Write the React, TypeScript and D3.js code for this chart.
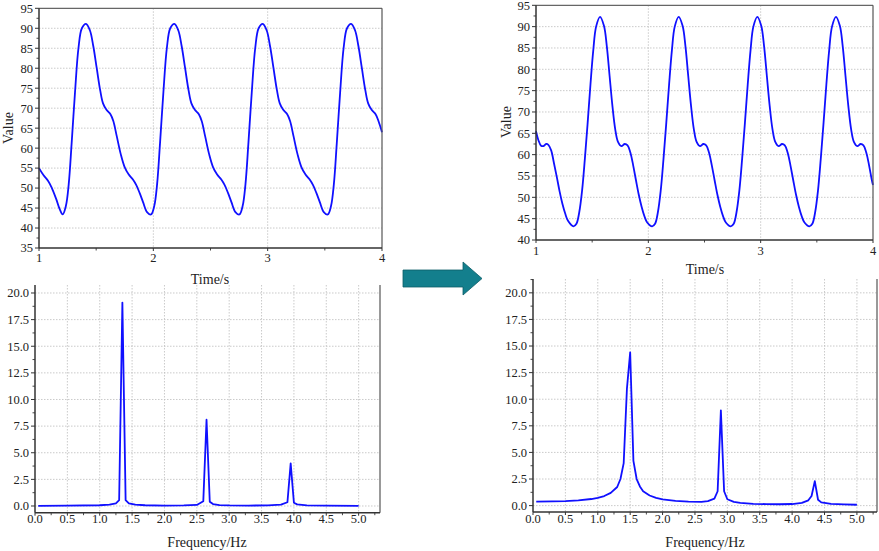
import React from "react";
import * as d3 from "d3";

// ---------- Top-left: time series before ----------
const TL_TIME = [
  1.0, 1.04, 1.08, 1.11, 1.15, 1.18, 1.207,
  1.235, 1.26, 1.285, 1.315, 1.345, 1.375, 1.411, 1.445, 1.475, 1.505, 1.535, 1.56, 1.59, 1.625, 1.65, 1.68, 1.715, 1.75, 1.785, 1.82, 1.85, 1.88, 1.91, 1.945, 1.98,
  2.008, 2.033, 2.058, 2.088, 2.118, 2.148, 2.184, 2.218, 2.248, 2.278, 2.308, 2.333, 2.363, 2.398, 2.423, 2.453, 2.488, 2.523, 2.558, 2.593, 2.623, 2.653, 2.683, 2.718, 2.753,
  2.781, 2.806, 2.831, 2.861, 2.891, 2.921, 2.957, 2.991, 3.021, 3.051, 3.081, 3.106, 3.136, 3.171, 3.196, 3.226, 3.261, 3.296, 3.331, 3.366, 3.396, 3.426, 3.456, 3.491, 3.526,
  3.554, 3.579, 3.604, 3.634, 3.664, 3.694, 3.73, 3.764, 3.794, 3.824, 3.854, 3.879, 3.909, 3.944, 3.969, 4.0,
];
const TL_VALUE = [
  55.0, 53.2, 51.8, 50.2, 47.3, 44.8, 43.4,
  45.5, 51.0, 61.0, 74.0, 85.0, 90.0, 91.1, 89.5, 85.5, 80.0, 74.5, 71.2, 69.6, 68.5, 66.8, 63.0, 58.5, 55.2, 53.4, 52.2, 50.8, 48.8, 46.5, 44.0, 43.4,
  45.5, 51.0, 61.0, 74.0, 85.0, 90.0, 91.1, 89.5, 85.5, 80.0, 74.5, 71.2, 69.6, 68.5, 66.8, 63.0, 58.5, 55.2, 53.4, 52.2, 50.8, 48.8, 46.5, 44.0, 43.4,
  45.5, 51.0, 61.0, 74.0, 85.0, 90.0, 91.1, 89.5, 85.5, 80.0, 74.5, 71.2, 69.6, 68.5, 66.8, 63.0, 58.5, 55.2, 53.4, 52.2, 50.8, 48.8, 46.5, 44.0, 43.4,
  45.5, 51.0, 61.0, 74.0, 85.0, 90.0, 91.1, 89.5, 85.5, 80.0, 74.5, 71.2, 69.6, 68.5, 66.8, 64.0,
];

// ---------- Top-right: time series after ----------
const TR_TIME = [
  1.0, 1.02, 1.045, 1.065, 1.09, 1.11, 1.135, 1.16, 1.185, 1.21, 1.235, 1.26, 1.285, 1.334,
  1.36, 1.385, 1.41, 1.435, 1.46, 1.485, 1.51, 1.535, 1.57, 1.605, 1.63, 1.655, 1.68, 1.705, 1.73, 1.76, 1.79, 1.815, 1.84, 1.865, 1.89, 1.915, 1.94, 1.965, 1.99, 2.034,
  2.06, 2.085, 2.11, 2.135, 2.16, 2.185, 2.21, 2.235, 2.27, 2.305, 2.33, 2.355, 2.38, 2.405, 2.43, 2.46, 2.49, 2.515, 2.54, 2.565, 2.59, 2.615, 2.64, 2.665, 2.69, 2.734,
  2.76, 2.785, 2.81, 2.835, 2.86, 2.885, 2.91, 2.935, 2.97, 3.005, 3.03, 3.055, 3.08, 3.105, 3.13, 3.16, 3.19, 3.215, 3.24, 3.265, 3.29, 3.315, 3.34, 3.365, 3.39, 3.434,
  3.46, 3.485, 3.51, 3.535, 3.56, 3.585, 3.61, 3.635, 3.67, 3.705, 3.73, 3.755, 3.78, 3.805, 3.83, 3.86, 3.89, 3.915, 3.94, 3.965, 3.99, 4.0,
];
const TR_VALUE = [
  65.5, 63.5, 62.1, 62.0, 62.5, 62.3, 61.0, 58.0, 54.8, 51.4, 48.5, 46.2, 44.5, 43.2,
  43.8, 46.5, 51.5, 59.0, 67.5, 76.5, 84.5, 90.0, 92.3, 90.2, 85.5, 78.5, 71.5, 66.0, 63.0, 62.0, 62.5, 62.2, 60.5, 57.5, 54.0, 50.6, 47.8, 45.6, 44.1, 43.2,
  43.8, 46.5, 51.5, 59.0, 67.5, 76.5, 84.5, 90.0, 92.3, 90.2, 85.5, 78.5, 71.5, 66.0, 63.0, 62.0, 62.5, 62.2, 60.5, 57.5, 54.0, 50.6, 47.8, 45.6, 44.1, 43.2,
  43.8, 46.5, 51.5, 59.0, 67.5, 76.5, 84.5, 90.0, 92.3, 90.2, 85.5, 78.5, 71.5, 66.0, 63.0, 62.0, 62.5, 62.2, 60.5, 57.5, 54.0, 50.6, 47.8, 45.6, 44.1, 43.2,
  43.8, 46.5, 51.5, 59.0, 67.5, 76.5, 84.5, 90.0, 92.3, 90.2, 85.5, 78.5, 71.5, 66.0, 63.0, 62.0, 62.5, 62.2, 60.5, 57.5, 54.0, 52.9,
];

// ---------- Bottom-left: spectrum before ----------
const BL_FREQ = [0.05, 0.5, 1.0, 1.15, 1.25, 1.3, 1.35, 1.4, 1.45, 1.55, 1.7, 2.0, 2.3, 2.5, 2.6, 2.65, 2.7, 2.75, 2.85, 3.0, 3.3, 3.6, 3.8, 3.9, 3.95, 4.0, 4.05, 4.2, 4.5, 5.0];
const BL_AMP = [0.02, 0.03, 0.07, 0.13, 0.25, 0.55, 19.1, 0.55, 0.25, 0.13, 0.07, 0.04, 0.05, 0.1, 0.45, 8.1, 0.4, 0.18, 0.08, 0.05, 0.04, 0.06, 0.12, 0.35, 4.0, 0.3, 0.15, 0.06, 0.03, 0.02];

// ---------- Bottom-right: spectrum after ----------
const BR_FREQ = [0.05, 0.3, 0.5, 0.7, 0.9, 1.0, 1.1, 1.2, 1.3, 1.35, 1.4, 1.45, 1.5, 1.55, 1.6, 1.65, 1.7, 1.8, 1.9, 2.0, 2.2, 2.4, 2.6, 2.7, 2.8, 2.85, 2.9, 2.95, 3.0, 3.1, 3.2, 3.4, 3.6, 3.8, 4.0, 4.15, 4.25, 4.3, 4.35, 4.4, 4.45, 4.6, 4.8, 5.0];
const BR_AMP = [0.38, 0.4, 0.43, 0.5, 0.62, 0.72, 0.9, 1.2, 1.75, 2.5, 4.0, 11.0, 14.4, 4.2, 2.5, 1.8, 1.35, 0.95, 0.72, 0.58, 0.45, 0.38, 0.36, 0.42, 0.65, 1.35, 8.95, 1.35, 0.6, 0.35, 0.25, 0.17, 0.14, 0.13, 0.15, 0.25, 0.5, 0.9, 2.3, 0.55, 0.3, 0.16, 0.11, 0.08];

// ---------- Tick values ----------
const TL_Y_TICKS = [35, 40, 45, 50, 55, 60, 65, 70, 75, 80, 85, 90, 95];
const TR_Y_TICKS = [40, 45, 50, 55, 60, 65, 70, 75, 80, 85, 90, 95];
const TIME_TICKS = [1, 2, 3, 4];
const AMP_TICKS = [0, 2.5, 5, 7.5, 10, 12.5, 15, 17.5, 20];
const FREQ_TICKS = [0, 0.5, 1, 1.5, 2, 2.5, 3, 3.5, 4, 4.5, 5];

const FONT = "'Liberation Serif', 'Times New Roman', serif";
const AXIS = "#333";
const GRID = "#bdbdbd";
const LINE = "#1010ff";

type PanelProps = {
  box: [number, number, number, number];
  xDomain: [number, number];
  yDomain: [number, number];
  xTicks: number[];
  xMinorStep: number;
  xFmt: (v: number) => string;
  yTicks: number[];
  yMinorStep: number;
  yFmt: (v: number) => string;
  xs: number[];
  ys: number[];
  smooth: boolean;
  topLine: boolean;
  xLabel: string;
  xLabelPos: [number, number];
  xTickDy: number;
  yLabelPos?: [number, number];
};

function Panel(p: PanelProps) {
  const [x0, y0, x1, y1] = p.box;
  const xs = d3.scaleLinear().domain(p.xDomain).range([x0, x1]);
  const ys = d3.scaleLinear().domain(p.yDomain).range([y1, y0]);
  const pts = p.xs.map((x, i) => [x, p.ys[i]] as [number, number]);
  const line = d3
    .line<[number, number]>()
    .x((d) => xs(d[0]))
    .y((d) => ys(d[1]))
    .curve(p.smooth ? d3.curveCatmullRom.alpha(0.5) : d3.curveLinear);
  const xMinor = d3.range(p.xDomain[0], p.xDomain[1] + 1e-9, p.xMinorStep).filter((v) => !p.xTicks.some((t) => Math.abs(t - v) < 1e-6));
  const yMinor = d3.range(p.yTicks[0], p.yDomain[1] + 1e-9, p.yMinorStep).filter((v) => !p.yTicks.some((t) => Math.abs(t - v) < 1e-6));
  const eps = 1e-6;
  return (
    <g>
      {p.yTicks
        .filter((t) => t > p.yDomain[0] + eps && t < p.yDomain[1] - eps)
        .map((t) => (
          <line key={"gy" + t} x1={x0} x2={x1} y1={ys(t)} y2={ys(t)} stroke={GRID} strokeWidth={0.8} strokeDasharray="1.5,1.5" />
        ))}
      {p.xTicks
        .filter((t) => t > p.xDomain[0] + eps && t < p.xDomain[1] - eps)
        .map((t) => (
          <line key={"gx" + t} x1={xs(t)} x2={xs(t)} y1={y0} y2={y1} stroke={GRID} strokeWidth={0.8} strokeDasharray="1.5,1.5" />
        ))}
      <path d={line(pts) || ""} fill="none" stroke={LINE} strokeWidth={1.8} strokeLinejoin="round" />
      {p.topLine && <line x1={x0} x2={x1} y1={y0} y2={y0} stroke="#666" strokeWidth={1.2} />}
      <line x1={x1} x2={x1} y1={y0} y2={y1} stroke="#555" strokeWidth={1.2} />
      <line x1={x0} x2={x0} y1={y0} y2={y1} stroke={AXIS} strokeWidth={1.5} />
      <line x1={x0} x2={x1} y1={y1} y2={y1} stroke={AXIS} strokeWidth={1.5} />
      {p.yTicks.map((t) => (
        <g key={"yt" + t}>
          <line x1={x0 - 4} x2={x0} y1={ys(t)} y2={ys(t)} stroke={AXIS} strokeWidth={1} />
          <text x={x0 - 6} y={ys(t)} dy="0.35em" textAnchor="end" fontFamily={FONT} fontSize={12.5} fill="#222">
            {p.yFmt(t)}
          </text>
        </g>
      ))}
      {yMinor.map((t) => (
        <line key={"ym" + t} x1={x0 - 2.5} x2={x0} y1={ys(t)} y2={ys(t)} stroke={AXIS} strokeWidth={0.9} />
      ))}
      {p.xTicks.map((t) => (
        <g key={"xt" + t}>
          <line x1={xs(t)} x2={xs(t)} y1={y1} y2={y1 + 3} stroke={AXIS} strokeWidth={1} />
          <text x={xs(t)} y={y1 + p.xTickDy} textAnchor="middle" fontFamily={FONT} fontSize={12.5} fill="#222">
            {p.xFmt(t)}
          </text>
        </g>
      ))}
      {xMinor.map((t) => (
        <line key={"xm" + t} x1={xs(t)} x2={xs(t)} y1={y1} y2={y1 + 2.5} stroke={AXIS} strokeWidth={0.9} />
      ))}
      <text x={p.xLabelPos[0]} y={p.xLabelPos[1]} textAnchor="middle" fontFamily={FONT} fontSize={14} fill="#222">
        {p.xLabel}
      </text>
      {p.yLabelPos && (
        <text
          transform={`translate(${p.yLabelPos[0]},${p.yLabelPos[1]}) rotate(-90)`}
          textAnchor="middle"
          dy="0.35em"
          fontFamily={FONT}
          fontSize={14}
          fill="#222"
        >
          Value
        </text>
      )}
    </g>
  );
}

const fmtInt = (v: number) => d3.format("d")(v);
const fmt1 = (v: number) => d3.format(".1f")(v);

export default function App() {
  return (
    <div style={{ position: "fixed", left: 0, top: 0, width: 879, height: 551, background: "#fff" }}>
      <svg width={879} height={551} viewBox="0 0 879 551">
        <rect width={879} height={551} fill="#fff" />
        <Panel
          box={[39, 8.3, 382, 248]}
          xDomain={[1, 4]}
          yDomain={[35, 95]}
          xTicks={TIME_TICKS}
          xMinorStep={0.5}
          xFmt={fmtInt}
          yTicks={TL_Y_TICKS}
          yMinorStep={2.5}
          yFmt={fmtInt}
          xs={TL_TIME}
          ys={TL_VALUE}
          smooth={true}
          topLine={true}
          xLabel="Time/s"
          xLabelPos={[210, 284]}
          xTickDy={14}
          yLabelPos={[8, 128]}
        />
        <Panel
          box={[536, 5.3, 873, 240]}
          xDomain={[1, 4]}
          yDomain={[40, 95]}
          xTicks={TIME_TICKS}
          xMinorStep={0.5}
          xFmt={fmtInt}
          yTicks={TR_Y_TICKS}
          yMinorStep={2.5}
          yFmt={fmtInt}
          xs={TR_TIME}
          ys={TR_VALUE}
          smooth={true}
          topLine={true}
          xLabel="Time/s"
          xLabelPos={[705, 274]}
          xTickDy={15}
          yLabelPos={[506, 122]}
        />
        <Panel
          box={[35, 285, 380, 512.7]}
          xDomain={[0, 5.33]}
          yDomain={[-0.63, 20.75]}
          xTicks={FREQ_TICKS}
          xMinorStep={0.25}
          xFmt={fmt1}
          yTicks={AMP_TICKS}
          yMinorStep={1.25}
          yFmt={fmt1}
          xs={BL_FREQ}
          ys={BL_AMP}
          smooth={false}
          topLine={false}
          xLabel="Frequency/Hz"
          xLabelPos={[207, 547]}
          xTickDy={10.5}
        />
        <Panel
          box={[533, 279, 877, 512]}
          xDomain={[0, 5.31]}
          yDomain={[-0.6, 21.3]}
          xTicks={FREQ_TICKS}
          xMinorStep={0.25}
          xFmt={fmt1}
          yTicks={AMP_TICKS}
          yMinorStep={1.25}
          yFmt={fmt1}
          xs={BR_FREQ}
          ys={BR_AMP}
          smooth={false}
          topLine={false}
          xLabel="Frequency/Hz"
          xLabelPos={[705, 547]}
          xTickDy={10.5}
        />
        <polygon
          points="403,270 463,270 463,262 482,278.5 463,295 463,287 403,287"
          fill="#137f8d"
          stroke="#0c5d68"
          strokeWidth={0.8}
        />
      </svg>
    </div>
  );
}
